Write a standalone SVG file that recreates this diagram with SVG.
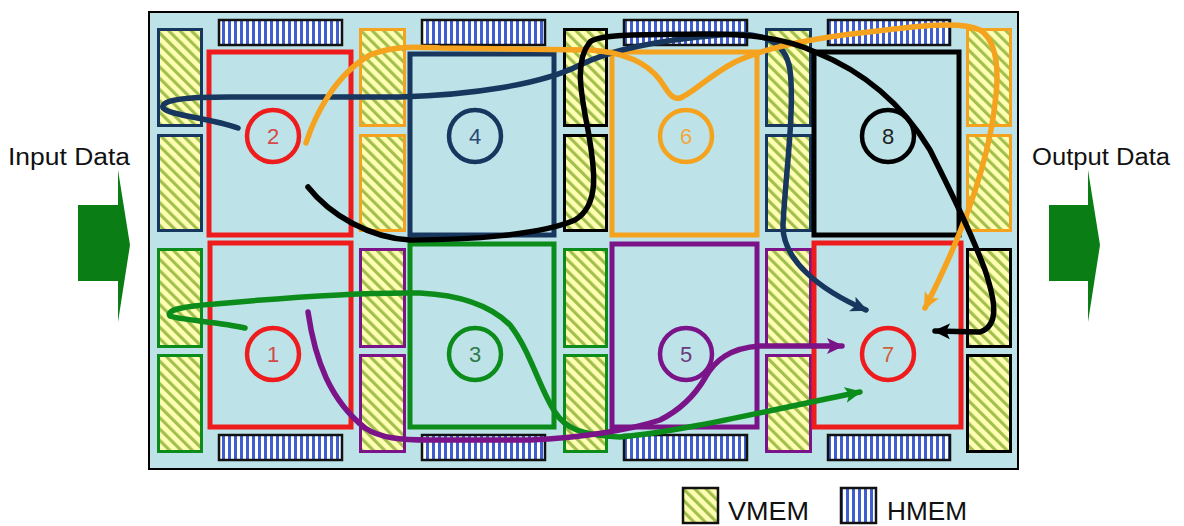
<svg xmlns="http://www.w3.org/2000/svg" width="1184" height="526" viewBox="0 0 1184 526">
<defs>
<pattern id="vmemP" patternUnits="userSpaceOnUse" width="8" height="8" patternTransform="rotate(-45)">
<rect width="8" height="8" fill="#ffffb4"/>
<rect x="0" y="0" width="3.2" height="8" fill="#a3bf4e"/>
</pattern>
<pattern id="hmemP" patternUnits="userSpaceOnUse" width="6" height="6">
<rect width="6" height="6" fill="#ffffff"/>
<rect x="0" y="0" width="3" height="6" fill="#3f5fd0"/>
</pattern>
<marker id="aNavy" markerUnits="userSpaceOnUse" markerWidth="18" markerHeight="18" refX="15" refY="9" orient="auto"><path d="M0,1 L17,9 L0,17 L4,9 z" fill="#17375e"/></marker>
<marker id="aOrange" markerUnits="userSpaceOnUse" markerWidth="18" markerHeight="18" refX="15" refY="9" orient="auto"><path d="M0,1 L17,9 L0,17 L4,9 z" fill="#f5a31e"/></marker>
<marker id="aBlack" markerUnits="userSpaceOnUse" markerWidth="18" markerHeight="18" refX="15" refY="9" orient="auto"><path d="M0,1 L17,9 L0,17 L4,9 z" fill="#000000"/></marker>
<marker id="aGreen" markerUnits="userSpaceOnUse" markerWidth="18" markerHeight="18" refX="15" refY="9" orient="auto"><path d="M0,1 L17,9 L0,17 L4,9 z" fill="#0c8c1a"/></marker>
<marker id="aPurple" markerUnits="userSpaceOnUse" markerWidth="18" markerHeight="18" refX="15" refY="9" orient="auto"><path d="M0,1 L17,9 L0,17 L4,9 z" fill="#7a1488"/></marker>
</defs>
<style>
.board{fill:#bde3e8;stroke:#000;stroke-width:2}
.blk{fill:#bde3e8;stroke-width:5}
.vm{fill:url(#vmemP);stroke-width:3}
.hm{fill:url(#hmemP);stroke:#111;stroke-width:2.5}
.cir{fill:none;stroke-width:4.5}
.num{font-family:"Liberation Sans",Arial,sans-serif;font-size:22px;text-anchor:middle}
.lbl{font-family:"Liberation Sans",Arial,sans-serif;fill:#111}
.con{fill:none;stroke-width:5.5;stroke-linecap:round;stroke-linejoin:round}
.red{stroke:#ee1c1c}.navy{stroke:#17375e}.orange{stroke:#f5a31e}.black{stroke:#000}.green{stroke:#0c8c1a}.purple{stroke:#7a1488}
</style>
<rect class="board" x="149" y="12" width="869" height="457"/>

<g id="hmem">
<rect class="hm" x="219" y="20" width="123" height="25"/>
<rect class="hm" x="422" y="20" width="123" height="25"/>
<rect class="hm" x="624" y="20" width="123" height="25"/>
<rect class="hm" x="828" y="20" width="122" height="25"/>
<rect class="hm" x="219" y="435" width="123" height="25"/>
<rect class="hm" x="422" y="435" width="123" height="25"/>
<rect class="hm" x="624" y="435" width="123" height="25"/>
<rect class="hm" x="828" y="435" width="122" height="25"/>
</g>

<g id="vmem">
<rect class="vm navy" x="158.5" y="29.5" width="43" height="96"/>
<rect class="vm navy" x="158.5" y="135.5" width="43" height="95"/>
<rect class="vm orange" x="360.5" y="29.5" width="44" height="96"/>
<rect class="vm orange" x="360.5" y="135.5" width="44" height="95"/>
<rect class="vm black" x="564.5" y="29.5" width="42" height="96"/>
<rect class="vm black" x="564.5" y="135.5" width="42" height="95"/>
<rect class="vm navy" x="766.5" y="29.5" width="44" height="96"/>
<rect class="vm navy" x="766.5" y="135.5" width="44" height="95"/>
<rect class="vm orange" x="967.5" y="29.5" width="43" height="96"/>
<rect class="vm orange" x="967.5" y="135.5" width="43" height="95"/>
<rect class="vm green" x="158.5" y="249.5" width="43" height="97"/>
<rect class="vm green" x="158.5" y="355.5" width="43" height="96"/>
<rect class="vm purple" x="360.5" y="249.5" width="44" height="97"/>
<rect class="vm purple" x="360.5" y="355.5" width="44" height="96"/>
<rect class="vm green" x="564.5" y="249.5" width="42" height="97"/>
<rect class="vm green" x="564.5" y="355.5" width="42" height="96"/>
<rect class="vm purple" x="766.5" y="249.5" width="44" height="97"/>
<rect class="vm purple" x="766.5" y="355.5" width="44" height="96"/>
<rect class="vm black" x="967.5" y="249.5" width="43" height="97"/>
<rect class="vm black" x="967.5" y="355.5" width="43" height="96"/>
</g>

<g id="node2"><rect class="blk red" x="209" y="52" width="142" height="183"/><circle class="cir red" cx="273" cy="136" r="26"/><text class="num" x="273" y="144" fill="#d44848">2</text></g>
<g id="node4"><rect class="blk navy" x="410" y="54" width="144" height="181" stroke-width="4"/><circle class="cir navy" cx="475" cy="136" r="26"/><text class="num" x="475" y="144" fill="#2a4a70">4</text></g>
<g id="node6"><rect class="blk orange" x="612" y="52" width="145" height="183"/><circle class="cir orange" cx="686" cy="136" r="26"/><text class="num" x="686" y="144" fill="#f0a840">6</text></g>
<g id="node8"><rect class="blk black" x="814" y="52" width="145" height="183"/><circle class="cir black" cx="888" cy="136" r="26"/><text class="num" x="888" y="144" fill="#222">8</text></g>
<g id="node1"><rect class="blk red" x="210" y="243" width="141" height="184"/><circle class="cir red" cx="273" cy="354" r="26"/><text class="num" x="273" y="362" fill="#d44848">1</text></g>
<g id="node3"><rect class="blk green" x="410" y="244" width="144" height="183"/><circle class="cir green" cx="475" cy="354" r="26"/><text class="num" x="475" y="362" fill="#2e7a4a">3</text></g>
<g id="node5"><rect class="blk purple" x="612" y="244" width="145" height="183" stroke-width="4.5"/><circle class="cir purple" cx="686" cy="354" r="26"/><text class="num" x="686" y="362" fill="#6a3a80">5</text></g>
<g id="node7"><rect class="blk red" x="814" y="243" width="147" height="184"/><circle class="cir red" cx="888" cy="354" r="26"/><text class="num" x="888" y="362" fill="#d0603a">7</text></g>

<g id="connectors">
<path class="con navy" marker-end="url(#aNavy)" d="M238,128 C210,118 168,115 163,108 C160,99 190,97 230,97 L400,97 C470,95 540,85 580,65 C610,50 660,40 720,35 C760,32 785,38 790,70 C795,110 785,180 783,225 C782,260 820,290 866,310"/>
<path class="con orange" marker-end="url(#aOrange)" d="M306,143 C315,115 335,75 370,55 C395,45 420,47 440,48 L590,50 C620,52 645,60 660,80 C668,92 672,100 680,98 C690,95 710,75 735,62 C760,50 800,40 860,33 C910,27 960,20 980,30 C995,40 999,65 996,95 C990,160 965,230 925,308"/>
<path class="con black" marker-end="url(#aBlack)" d="M308,187 C330,215 370,238 410,240 C470,240 540,235 575,220 C600,205 595,170 588,130 C580,90 575,60 590,42 C600,34 640,35 700,34 C750,33 790,40 815,52 C860,70 900,100 930,150 C950,190 970,230 985,270 C995,300 1000,325 980,332 L935,331"/>
<path class="con green" marker-end="url(#aGreen)" d="M245,328 C220,322 180,320 170,316 C165,310 185,306 215,304 C280,298 360,292 420,293 C460,295 490,305 510,325 C530,350 540,390 555,412 C565,428 580,435 620,437 C680,432 770,410 860,392"/>
<path class="con purple" marker-end="url(#aPurple)" d="M308,312 C315,360 330,400 365,428 C380,438 400,440 430,440 L530,440 C580,438 630,430 660,420 C680,410 695,395 705,378 C715,360 730,348 760,346 L842,346"/>
</g>

<g id="input">
<text class="lbl" x="8" y="165" font-size="23" textLength="122" lengthAdjust="spacingAndGlyphs">Input Data</text>
<path d="M78,205 H118 V170 L130,245 L118,322 V281 H78 Z" fill="#0a7d14"/>
</g>
<g id="output">
<text class="lbl" x="1032" y="165" font-size="23" textLength="138" lengthAdjust="spacingAndGlyphs">Output Data</text>
<path d="M1049,205 H1088 V170 L1100,245 L1088,322 V281 H1049 Z" fill="#0a7d14"/>
</g>

<g id="legend">
<rect x="683" y="488" width="35" height="35" fill="url(#vmemP)" stroke="#111" stroke-width="2.5"/>
<text class="lbl" x="728" y="520" font-size="25" textLength="81" lengthAdjust="spacingAndGlyphs">VMEM</text>
<rect x="841" y="488" width="35" height="35" fill="url(#hmemP)" stroke="#111" stroke-width="2.5"/>
<text class="lbl" x="887" y="520" font-size="25" textLength="80" lengthAdjust="spacingAndGlyphs">HMEM</text>
</g>
</svg>
